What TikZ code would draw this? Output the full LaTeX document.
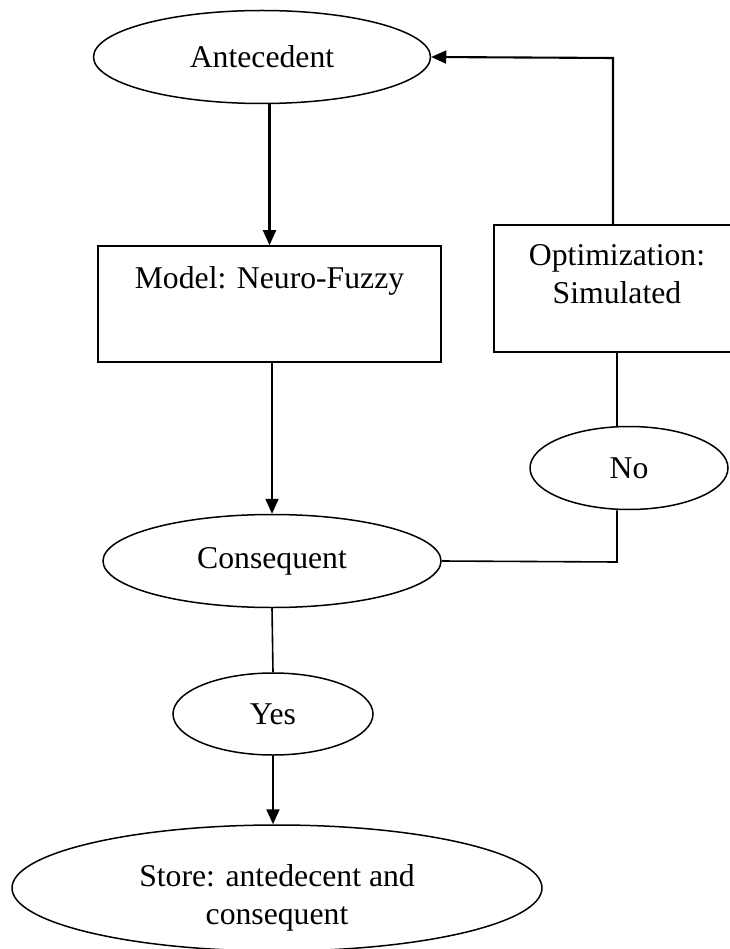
\documentclass[tikz,border=0pt]{standalone}
\usepackage{fontspec}
\setmainfont{Liberation Serif}
\usetikzlibrary{shapes.geometric,arrows.meta}

\tikzset{
  flowtext/.style={font=\fontsize{31.7}{38}\selectfont, align=center},
  oval/.style={draw, ellipse, line width=1.5pt, inner sep=0pt, flowtext},
  box/.style={draw, rectangle, line width=1.6pt, inner sep=0pt},
  link/.style={line width=1.6pt},
  arr/.style={line width=2.1pt, -{Triangle[length=15pt,width=13pt]}}
}

\begin{document}
\begin{tikzpicture}[x=1pt, y=-1pt]
                \useasboundingbox (0,0) rectangle (729,949);

                % Draw the ovals
                \node[oval, minimum width=337pt, minimum height=93pt] (ante) at (262,57) {Antecedent};
                \node[oval, minimum width=338pt, minimum height=93pt] (cons) at (272,561) {Consequent};
                \node[oval, minimum width=200pt, minimum height=82pt] (yes) at (273,714) {Yes};
                \node[oval, minimum width=198pt, minimum height=83pt] (no) at (629,468) {No};
                \node[oval, minimum width=530pt, minimum height=126pt] (store) at (277,888) {};
                \node[flowtext] (storetext) at ([yshift=-10pt]store.center) {Store: antedecent and\\consequent};

                % Draw the boxes
                \node[box, minimum width=343pt, minimum height=116pt] (model) at (269.5,304) {};
                \node[flowtext] (modeltext) at ([yshift=23pt]model.center) {Model: Neuro-Fuzzy};
                \node[box, minimum width=246pt, minimum height=127pt] (opt) at (617,288.5) {};
                \node[flowtext] (opttext) at ([yshift=14pt]opt.center) {Optimization:\\Simulated};

                % Draw the main flow
                \draw[arr] (ante.south -| model.north) -- (model.north);
                \draw[arr] (cons.north |- model.south) -- (cons.north);
                \draw[link] (cons.south) -- (yes.north);
                \draw[arr] (yes.south) -- (yes.south |- store.north);

                % Draw the loop back
                \coordinate (turn) at (617,562);
                \coordinate (top) at (613,58);
                \draw[link] (cons.east) -- (turn) -- (turn |- no.south);
                \draw[link] (no.north -| turn) -- (opt.south -| turn);
                \draw[arr] (opt.north -| top) -- (top) -- (ante.east);
            \end{tikzpicture}
\end{document}
